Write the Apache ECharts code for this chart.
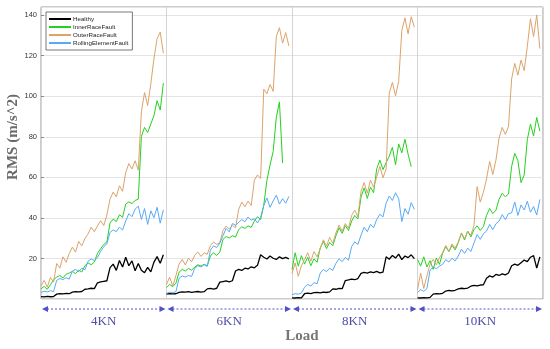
<!DOCTYPE html>
<html><head><meta charset="utf-8">
<script src="https://cdn.jsdelivr.net/npm/echarts@6/dist/echarts.min.js"></script>
<style>html,body{margin:0;padding:0;background:#fff}#c{width:550px;height:349px}</style>
</head><body><div id="c"></div>
<script>
const seriesNames = ['Healthy','InnerRaceFault','OuterRaceFault','RollingElementFault'];
const loadLabels = ['4KN','6KN','8KN','10KN'];
const axisTitleY = 'RMS (m/s^2)';
const axisTitleX = 'Load';
const pointsPerLoad = 40;

// Healthy
const healthy4KN = [1.2,1.0,1.3,1.1,1.2, 2.4,2.6,2.5,2.8,2.6, 3.4,3.6,3.5,3.7, 4.8,5.0,5.3,5.1, 8.0,8.4,8.7,9.0, 15.5, 17.2,14.1,19.0,15.8,20.6,16.4,18.8,13.9,17.5, 14.2,13.0,15.6,13.4, 18.2,20.9,17.6,21.8];
const healthy6KN = [2.4,2.7,2.5,2.6, 3.3,3.5,3.4,3.6,3.3,3.5,3.7,3.4,3.6, 5.0,5.2,4.9,5.3, 8.3,8.6,8.9,8.5,9.0, 13.8,14.6,14.1,15.2,14.8,15.9,15.4,16.6, 21.8,20.6,19.7,21.2,20.1,19.5,20.8,19.9,20.5,19.8];
const healthy8KN = [0.6,0.5,0.7,0.6, 2.6,2.9,2.7,3.1,3.3,3.0,3.4,3.2,3.5, 5.0,4.8,5.2,5.1, 9.1,9.4,9.8,9.5,10.1, 12.6,13.1,12.8,13.4,13.0,13.6,12.9,13.3, 20.8,19.6,21.5,20.2,22.1,19.4,21.2,20.4,21.8,19.9];
const healthy10KN = [0.6,0.5,0.7,0.6,0.8, 2.4,2.7,2.5,2.8, 3.9,4.2,4.0,4.3, 5.0,5.3,5.1,5.4, 6.3,6.7,6.5,6.9,7.0, 10.2,11.4,10.8,12.1,11.6,12.4,11.9,12.8, 16.4,17.2,16.6,17.9, 19.2,18.4,20.6,21.4,15.2,20.8];

// InnerRaceFault
const inner4KN = [5.0,6.2,4.8,7.0, 9.5, 10.8,11.6,10.4,12.2, 12.8,13.6,12.5,14.2,13.3, 16.4,17.8,16.9,18.2, 22.5,24.8,26.9,28.1, 37.5,39.4,38.2,41.6,40.3, 46.8,47.9,47.1,48.6,49.2, 80.2,84.6,82.1,86.3, 90.5,97.8,93.2,106.5];
const inner6KN = [5.6,7.2,6.1,7.8, 13.2,14.6,13.8,15.1,14.2, 15.8,16.9,16.2,17.1,16.4, 21.2,22.8,21.5,23.1, 29.4,30.8,30.1,31.2,30.5, 34.2,35.6,34.8,36.1,35.3, 38.4,40.6,39.2, 46.2,58.4,66.1,72.8, 89.6,97.2,67.0, null,null];
const inner8KN = [14.5,22.8,16.2,21.4, 17.2,20.6,16.4,19.8,18.1, 25.2,28.4,24.8,27.9,26.3, 31.2,35.1,32.4,36.2,33.8, 38.4,41.2,39.5, 50.2,54.8,49.6,55.2,52.4, 64.2,68.5,63.8,67.2, 70.4,74.8,66.2,76.5,72.1, 78.8,71.4,65.2, null];
const inner10KN = [19.5,16.2,20.8, 15.8,18.9,14.6,20.2,17.1, 22.5,25.8,23.4,26.4,24.2, 27.8,32.4,29.1,33.5,30.6, 34.2,36.1,33.8,35.7, 41.2,44.6,42.1,43.8, 49.2,52.1,50.4,51.8, 65.4,71.8,68.2, 57.4,61.2, 78.6,86.2,80.4,89.5,82.8];

// OuterRaceFault
const outer4KN = [6.5,9.2,5.8,10.6,8.4, 17.5,15.2,20.8,18.1,22.4, 25.6,23.1,28.4,26.2,29.8, 32.1,35.4,33.2,36.0, 38.6,36.2,41.5, 49.2,52.7,50.4,55.8,53.1, 62.4,66.8,64.1,68.2,63.5, 92.5,101.8,95.4,106.2, 118.5,128.4,131.6,121.2];
const outer6KN = [7.2,10.8,6.4,11.5, 17.2,19.5,16.8,20.1,18.4, 21.5,23.2,21.0,22.8,22.1, 26.4,28.1,26.9,27.8, 33.8,35.9,34.6,36.2,35.1, 44.2,47.8,45.5,48.3,46.1, 58.5,61.2,59.4, 103.5,101.2,105.8,102.4, 129.5,133.8,126.2,131.4,124.8];
const outer8KN = [12.5,17.8,11.2,16.4, 19.5,22.8,18.6,23.4,20.8, 24.8,29.2,26.1,30.4,27.5, 32.6,36.4,33.5,37.2,34.9, 41.2,43.8,40.6, 53.1,57.4,52.2,58.6,55.1, 60.2,65.4,59.8,64.1, 101.5,106.8,100.2,107.4, 132.4,138.6,130.8,139.2,134.1];
const outer10KN = [4.6,12.8,5.2,11.4, 17.2,19.5,16.8,20.4, 22.8,26.4,23.5,27.2,25.1, 28.2,32.6,29.8,33.4,31.5, 36.2,55.4,47.8,52.6, 59.2,67.8,61.4,68.5, 79.4,84.6,81.2,85.1, 108.5,116.2,110.4,117.8,112.6, 124.6,138.2,129.4,140.1,123.5];

// RollingElementFault
const rolling4KN = [3.2,3.8,3.5,4.1,3.6, 9.2,10.1,9.6,10.5,9.8, 13.8,14.6,13.5,15.2,14.4, 18.6,19.8,18.9,20.4, 23.5,25.8,27.2, 32.8,34.1,33.2,35.4,34.0, 38.5,42.1,40.6,44.3,45.8, 39.2,44.6,36.8,43.5,40.1,45.2,37.4,44.0];
const rolling6KN = [2.8,3.4,3.1,3.6, 10.2,11.4,10.8,11.6,11.1, 15.2,16.4,15.8,16.9,16.1, 24.1,26.2,25.4,27.6, 31.2,34.8,33.1,37.2,36.4, 37.8,39.2,38.1,40.4,38.9,39.6,37.5,40.2, 46.1,49.8,45.2,48.4,51.2,46.8,49.5,47.2,50.6];
const rolling8KN = [2.2,2.6,2.4,2.9, 5.8,7.2,6.4,8.1,7.5, 12.8,14.6,13.5,15.2,14.1, 17.6,19.8,18.4,20.5,19.1, 25.8,28.2,26.9, 31.5,35.4,33.2,36.8,35.1, 39.2,41.8,40.5, 47.2,50.8,48.6,52.4,49.5, 38.2,44.6,41.8,47.5,44.2];
const rolling10KN = [3.2,4.6,3.8,5.1, 14.2,15.8,14.9,16.2, 17.1,19.4,18.2,20.1,18.8, 21.2,24.6,22.5,25.1,23.4, 27.6,31.8,29.4,32.2, 33.5,36.8,34.2,37.1, 38.4,41.6,39.2,42.1, 42.5,47.8,41.2,46.4,43.9,48.2,42.8,45.6,41.4,49.1];

const seriesSegments = [
  [healthy4KN, healthy6KN, healthy8KN, healthy10KN],
  [inner4KN, inner6KN, inner8KN, inner10KN],
  [outer4KN, outer6KN, outer8KN, outer10KN],
  [rolling4KN, rolling6KN, rolling8KN, rolling10KN]
];
const colors = ['#000000', '#22d21e', '#dca36a', '#58aaf8'];
const widths = [1.3, 1, 1, 1];

function buildData(segs) {
  const out = [];
  segs.forEach((arr, s) => {
    arr.forEach((v, i) => out.push([s * pointsPerLoad + i, v == null ? '-' : v]));
    out.push([s * pointsPerLoad + pointsPerLoad - 0.5, '-']);
  });
  return out;
}

const chart = echarts.init(document.getElementById('c'), null, {renderer: 'canvas'});
const serif = '"Times New Roman","Liberation Serif",serif';
chart.setOption({
  animation: false,
  backgroundColor: '#ffffff',
  grid: {left: 41, right: 7, top: 7, bottom: 50, show: true, borderColor: '#9a9a9a', borderWidth: 1},
  legend: {
    left: 46, top: 12, orient: 'vertical',
    icon: 'rect',
    itemWidth: 22, itemHeight: 2, itemGap: 0,
    padding: [3, 4, 3, 3],
    backgroundColor: '#ffffff', borderColor: '#555', borderWidth: 0.8,
    textStyle: {fontSize: 6.2, lineHeight: 8, color: '#222', fontFamily: 'Liberation Sans, Arial, sans-serif', padding: [0,0,0,-3]},
    data: seriesNames
  },
  xAxis: {
    type: 'value', min: 0, max: 4 * pointsPerLoad, interval: pointsPerLoad,
    axisLine: {show: false}, axisTick: {show: false}, axisLabel: {show: false},
    splitLine: {show: true, lineStyle: {color: '#d4d4d4', width: 1}}
  },
  yAxis: {
    type: 'value', min: 0, max: 144, interval: 20,
    axisLine: {show: false},
    axisTick: {show: true, inside: true, length: 3, lineStyle: {color: '#888'}},
    axisLabel: {fontSize: 7.5, color: '#333', margin: 4, showMinLabel: false, showMaxLabel: false, fontFamily: 'Liberation Sans, Arial, sans-serif'},
    splitLine: {show: true, lineStyle: {color: '#e4e4e4', width: 1}}
  },
  series: seriesNames.map((name, k) => ({
    name, type: 'line', showSymbol: false, symbol: 'none',
    data: buildData(seriesSegments[k]),
    lineStyle: {color: colors[k], width: widths[k]},
    itemStyle: {color: colors[k]},
    connectNulls: false
  }))
});

// Annotations below the plot, positioned from the x axis scale
const g = [];
const arrowColor = '#5252c8';
const yArrow = 309;
for (let s = 0; s < loadLabels.length; s++) {
  const x0 = chart.convertToPixel({gridIndex: 0}, [s * pointsPerLoad, 0])[0];
  const x1 = chart.convertToPixel({gridIndex: 0}, [(s + 1) * pointsPerLoad, 0])[0];
  g.push({type: 'line', shape: {x1: x0 + 6, y1: yArrow, x2: x1 - 6, y2: yArrow},
    style: {stroke: '#7070d4', lineWidth: 1.2, lineDash: [2, 2]}});
  g.push({type: 'polygon', shape: {points: [[x0 + 1, yArrow], [x0 + 7, yArrow - 3], [x0 + 7, yArrow + 3]]},
    style: {fill: arrowColor}});
  g.push({type: 'polygon', shape: {points: [[x1 - 1, yArrow], [x1 - 7, yArrow - 3], [x1 - 7, yArrow + 3]]},
    style: {fill: arrowColor}});
  g.push({type: 'text', x: (x0 + x1) / 2, y: 322,
    style: {text: loadLabels[s], font: '13px ' + serif, fill: '#4d4da6', align: 'center', verticalAlign: 'middle'}});
}
g.push({type: 'text', x: 302, y: 336,
  style: {text: axisTitleX, font: 'bold 15px ' + serif, fill: '#777777', align: 'center', verticalAlign: 'middle'}});
g.push({type: 'text', x: 13, y: 137, rotation: Math.PI / 2,
  style: {text: axisTitleY, font: 'bold 15px ' + serif, fill: '#6a6a6a', align: 'center', verticalAlign: 'middle'}});
chart.setOption({graphic: g});
</script>
</body></html>
